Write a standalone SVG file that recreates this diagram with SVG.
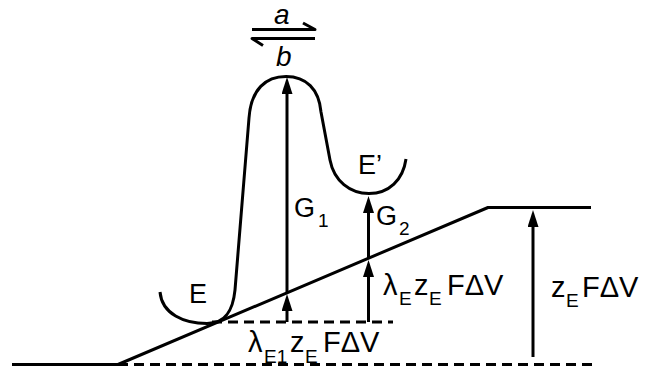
<svg xmlns="http://www.w3.org/2000/svg" width="651" height="370" viewBox="0 0 651 370">
<style>
.ln{fill:none;stroke:#000;stroke-width:3;stroke-linejoin:round}
.dash{fill:none;stroke:#000;stroke-width:3;stroke-dasharray:10 6}
.ar{fill:none;stroke:#000;stroke-width:3;marker-end:url(#ah)}
.t{font-family:"Liberation Sans",Arial,Helvetica,sans-serif;fill:#000}
.lbl{font-size:27px}
.eq{font-size:29px}
.sub{font-size:19px}
.it{font-style:italic;font-size:28px}
</style>
<defs>
<marker id="ah" viewBox="0 0 17 11" refX="11" refY="5.5" markerWidth="17" markerHeight="11" markerUnits="userSpaceOnUse" orient="auto">
<path d="M0,0 L17,5.5 L0,11 z" fill="#000"/>
</marker>
</defs>
<g id="baseline">
<path class="ln" d="M12,364.5 L118,364.5 L488,207.5 L591,207.5"/>
<path class="dash" d="M118,364.5 L592,364.5"/>
<path class="dash" d="M212,322 L393,322"/>
</g>
<g id="energy-curve">
<path class="ln" d="M160,292 C162,314 184,323.5 207,323.5 C226,323.5 233,310 235,290 L249,118 C251,89 266,76.5 286,76.5 C306,76.5 319,89 321,112 L330,160 C334,181 350,193.5 369,193.5 C389,193.5 403,180 406,159"/>
</g>
<g id="connectors">
<path class="ar" d="M287,322 L287,300"/>
<path class="ar" d="M287,292 L287,83"/>
<path class="ar" d="M368.5,322 L368.5,266"/>
<path class="ar" d="M368.5,258 L368.5,202"/>
<path class="ar" d="M533,357 L533,216"/>
<path class="ln" stroke-width="3.5" d="M252,29.5 L315,29.5 L303,23"/>
<path class="ln" stroke-width="3.5" d="M315,38.5 L252,38.5 L263,45.5"/>
</g>
<g id="rates">
<text class="t it" x="274" y="24">a</text>
<text class="t it" x="276" y="66">b</text>
</g>
<g id="state-E"><text class="t lbl" x="189" y="303">E</text></g>
<g id="state-E2"><text class="t lbl" x="358" y="174">E’</text></g>
<g id="label-G1"><text class="t lbl" x="294" y="217">G<tspan class="sub" x="318" y="227">1</tspan></text></g>
<g id="label-G2"><text class="t lbl" x="376" y="225">G<tspan class="sub" x="399" y="235">2</tspan></text></g>
<g id="label-lambdaE1">
<text class="t eq" x="248" y="352">λ<tspan class="sub" x="264" y="363">E1</tspan><tspan x="290" y="352">z</tspan><tspan class="sub" x="305" y="363">E</tspan><tspan x="323" y="352">FΔV</tspan></text>
</g>
<g id="label-lambdaE">
<text class="t eq" x="383" y="295">λ<tspan class="sub" x="399" y="305">E</tspan><tspan x="414" y="295">z</tspan><tspan class="sub" x="429" y="305">E</tspan><tspan x="447" y="295">FΔV</tspan></text>
</g>
<g id="label-zE">
<text class="t eq" x="551" y="297">z<tspan class="sub" x="566" y="307">E</tspan><tspan x="582" y="297">FΔV</tspan></text>
</g>
</svg>
